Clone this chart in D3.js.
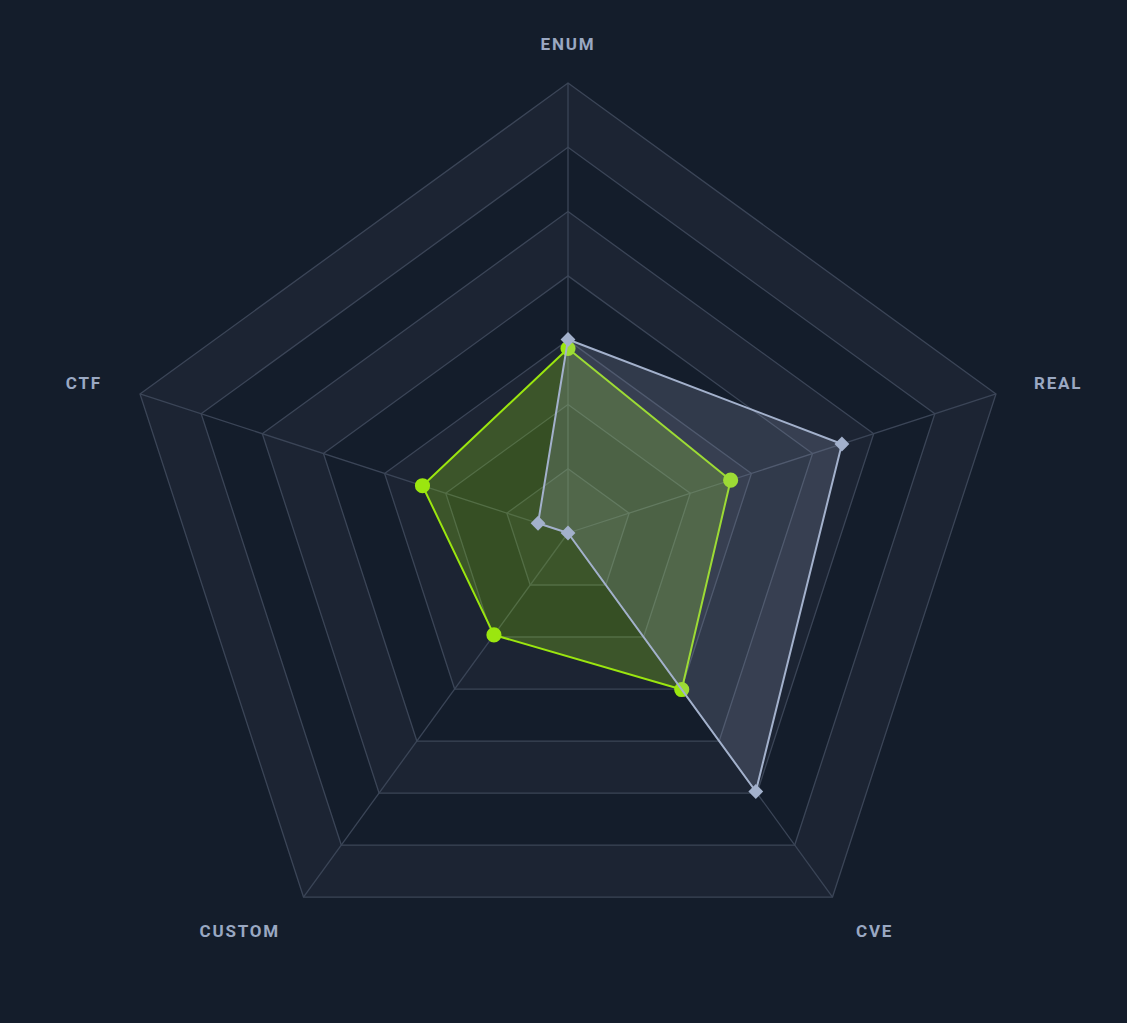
<!DOCTYPE html>
<html>
<head>
<meta charset="utf-8">
<script src="https://cdn.jsdelivr.net/npm/d3@7"></script>
<style>
  html, body { margin: 0; padding: 0; background: #141d2b; }
  svg { display: block; }
</style>
</head>
<body>
<svg id="mainsvg" width="1127" height="1023"></svg>
<script>
// axes, clockwise from the top
const axes = ["ENUM", "REAL", "CVE", "CUSTOM", "CTF"];
const greenValues = [41, 38, 43, 28, 34];
const grayValues = [43, 64, 71, 0, 7];
const maxValue = 100;
const levels = 7;

const width = 1127, height = 1023;
const cx = 568, cy = 533, radius = 450;

const svg = d3.select("#mainsvg");
const g = svg.append("g").attr("transform", `translate(${cx},${cy})`);

const r = d3.scaleLinear().domain([0, maxValue]).range([0, radius]);
const angle = i => -Math.PI / 2 + i * 2 * Math.PI / axes.length;
const pt = (v, i) => [r(v) * Math.cos(angle(i)), r(v) * Math.sin(angle(i))];

// split areas, alternating
const ringVals = d3.range(levels + 1).map(k => k * maxValue / levels);
for (let k = levels - 1; k >= 0; k--) {
  const outer = axes.map((a, i) => pt(ringVals[k + 1], i));
  g.append("path")
    .attr("d", d3.line()(outer) + "Z")
    .attr("fill", k % 2 === 0 ? "#1c2433" : "#141d2b");
}
// ring lines
ringVals.slice(1).forEach(v => {
  g.append("path")
    .attr("d", d3.line()(axes.map((a, i) => pt(v, i))) + "Z")
    .attr("fill", "none")
    .attr("stroke", "#3b4557")
    .attr("stroke-width", 1.3);
});
// spokes
axes.forEach((a, i) => {
  const [x, y] = pt(maxValue, i);
  g.append("line")
    .attr("x1", 0).attr("y1", 0).attr("x2", x).attr("y2", y)
    .attr("stroke", "#3b4557")
    .attr("stroke-width", 1.3);
});

// axis names
axes.forEach((a, i) => {
  const rr = radius + 40;
  const x = rr * Math.cos(angle(i)), y = rr * Math.sin(angle(i));
  let anchor = "middle";
  if (x > 1) anchor = "start";
  else if (x < -1) anchor = "end";
  g.append("text")
    .attr("x", x).attr("y", y)
    .attr("dy", "0.42em")
    .attr("text-anchor", anchor)
    .attr("fill", "#9aa8c2")
    .style("font-family", "Roboto, 'Noto Sans', sans-serif")
    .style("font-weight", 700)
    .style("font-size", "17px")
    .style("letter-spacing", "1.8px")
    .text(a);
});

const lineGen = d3.line();

function drawSeries(values, color, fillOpacity, marker) {
  const pts = values.map((v, i) => pt(v, i));
  const s = g.append("g");
  s.append("path")
    .attr("d", lineGen(pts) + "Z")
    .attr("fill", color)
    .attr("fill-opacity", fillOpacity)
    .attr("stroke", color)
    .attr("stroke-width", 2)
    .attr("stroke-linejoin", "round");
  const sym = d3.symbol().type(marker === "circle" ? d3.symbolCircle : d3.symbolSquare)
    .size(marker === "circle" ? 180 : 110);
  s.selectAll(".m")
    .data(pts)
    .join("path")
    .attr("d", sym)
    .attr("transform", d => `translate(${d[0]},${d[1]})` + (marker === "circle" ? "" : " rotate(45)"))
    .attr("fill", color);
}

drawSeries(greenValues, "#9be60f", 0.25, "circle");
drawSeries(grayValues, "#a3b1cc", 0.2, "diamond");
</script>
</body>
</html>
